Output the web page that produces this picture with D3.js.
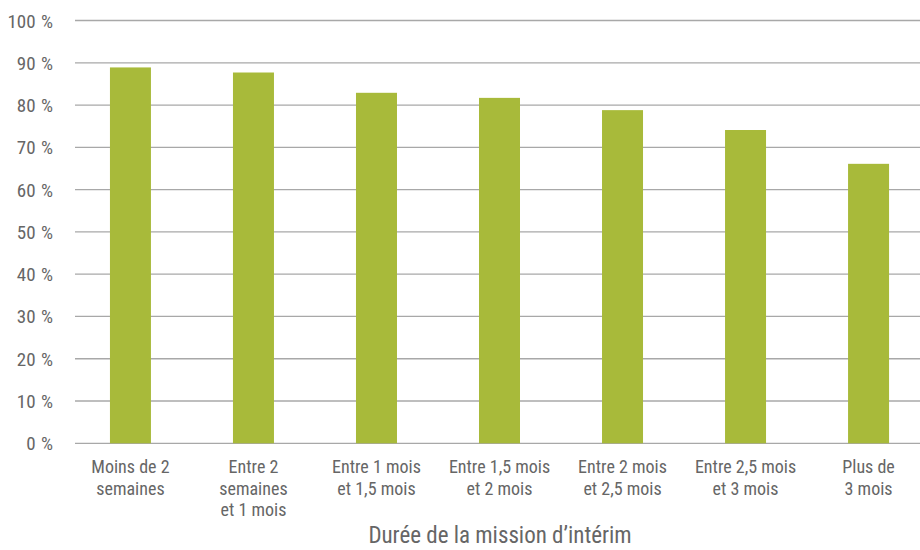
<!DOCTYPE html>
<html><head><meta charset="utf-8">
<script src="https://cdn.jsdelivr.net/npm/d3@7"></script>
<style>body{margin:0;background:#fff}</style>
</head><body>
<script>
const categories = [
  ["Moins de 2","semaines"],
  ["Entre 2","semaines","et 1 mois"],
  ["Entre 1 mois","et 1,5 mois"],
  ["Entre 1,5 mois","et 2 mois"],
  ["Entre 2 mois","et 2,5 mois"],
  ["Entre 2,5 mois","et 3 mois"],
  ["Plus de","3 mois"]
];
const values = [88.9, 87.7, 82.9, 81.7, 78.8, 74.1, 66.1];
const yTicks = [0,10,20,30,40,50,60,70,80,90,100];
const xTitle = "Durée de la mission d’intérim";

const W = 920, H = 550;
const font = "'Liberation Sans Narrow','Roboto Condensed','Arial Narrow',Roboto,sans-serif";
const svg = d3.select("body").append("svg").attr("width", W).attr("height", H);

const y = d3.scaleLinear().domain([0,100]).range([443.3, 20.5]);
const x = d3.scaleBand().domain(categories.map((d,i)=>i)).range([69, 930]).paddingInner(0.667).paddingOuter(0.333);

// gridlines
svg.append("g").selectAll("line").data(yTicks).join("line")
  .attr("x1", 75).attr("x2", W)
  .attr("y1", d=>y(d)).attr("y2", d=>y(d))
  .attr("stroke", "#a8a8a8").attr("stroke-width", 1.3);

// y labels
svg.append("g").selectAll("text").data(yTicks).join("text")
  .attr("x", 53).attr("y", d=>y(d)+7)
  .attr("text-anchor","end")
  .attr("font-family", font).attr("font-size", 19).attr("fill","#666")
  .attr("word-spacing", 1)
  .text(d=>d+" %");

// bars
const bw = 41;
svg.append("g").selectAll("rect").data(values).join("rect")
  .attr("x", (d,i)=>x(i)+x.bandwidth()/2-bw/2)
  .attr("width", bw)
  .attr("y", d=>y(d))
  .attr("height", d=>y(0)-y(d))
  .attr("fill", "#a8ba3a");

// category labels
const cg = svg.append("g");
categories.forEach((lines,i)=>{
  const t = cg.append("text")
    .attr("text-anchor","middle")
    .attr("font-family", font).attr("font-size", 18).attr("fill","#666");
  lines.forEach((l,j)=>{
    t.append("tspan").attr("x", x(i)+x.bandwidth()/2).attr("y", 473+j*21.5).text(l);
  });
});

svg.append("text").attr("x", 500).attr("y", 543)
  .attr("text-anchor","middle")
  .attr("font-family", font).attr("font-size", 23).attr("fill","#666")
  .text(xTitle);
</script>
</body></html>
